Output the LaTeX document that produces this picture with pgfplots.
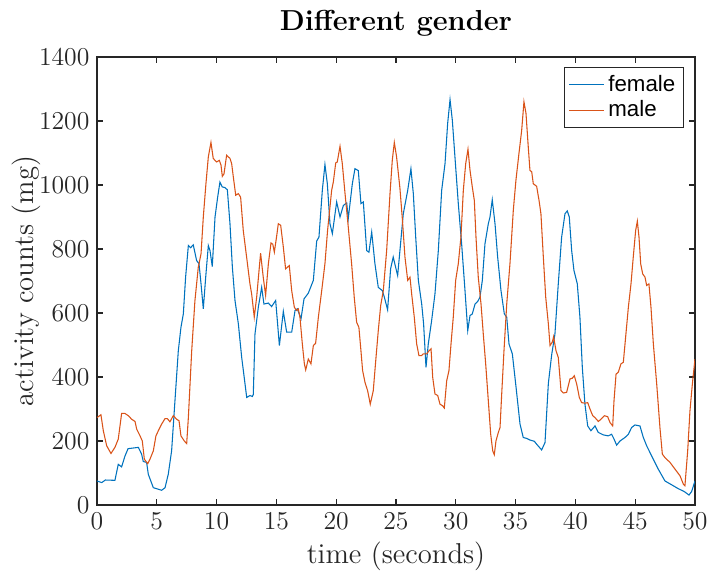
\documentclass[border=0pt]{standalone}
\usepackage{pgfplots}
\pgfplotsset{compat=1.18}
\usepackage{fontspec}
\newfontfamily\legfont{Liberation Sans}
\definecolor{mblue}{RGB}{0,114,189}
\definecolor{morange}{RGB}{217,83,25}
\definecolor{axgray}{RGB}{38,38,38}
\begin{document}
\begin{tikzpicture}
\begin{axis}[
  scale only axis,
  width=279pt, height=209pt,
  xmin=0, xmax=50, ymin=0, ymax=1400,
  xtick={0,5,...,50}, ytick={0,200,...,1400},
  /pgf/number format/set thousands separator={},
  tick align=inside,
  major tick length=2.8pt,
  axis line style={axgray, line width=0.5pt},
  every tick/.style={axgray, line width=0.5pt},
  tick label style={font=\fontsize{12}{14}\selectfont, text=axgray},
  xticklabel style={inner xsep=0pt},
  label style={font=\fontsize{13.4}{16}\selectfont, text=axgray, inner sep=0pt},
  title style={font=\fontsize{13.5}{16}\selectfont\bfseries, at={(axis description cs:0.5,1)}, anchor=base, yshift=6.3pt, inner sep=0pt},
  title={Different gender},
  xlabel={time (seconds)},
  ylabel={activity counts (mg)},
  xlabel style={at={(axis description cs:0.5,-0.114)}, anchor=center},
  ylabel style={at={(axis description cs:-0.118,0.5)}, anchor=center},
  legend style={at={(1,1)}, anchor=north east, xshift=-5pt, yshift=-4.7pt,
    font=\fontsize{10.4}{12}\selectfont\legfont, draw=axgray, line width=0.4pt,
    inner xsep=2pt, inner ysep=1.5pt, row sep=-1pt},
  legend cell align=left,
  legend image code/.code={\draw[#1] (0pt,0pt) -- (16pt,0pt);},
]
\coordinate (bl) at (rel axis cs:0,0);
\coordinate (tr) at (rel axis cs:1,1);
\addplot[mblue, line width=0.5pt] coordinates {
(0,75) (0.4,70) (0.7,78) (1.5,77) (1.78,127) (2.06,119) (2.34,153) (2.6,176) (3.46,180) (3.73,159) (3.87,136) (4.15,133) (4.29,96) (4.71,54) (5.41,46) (5.69,54) (5.96,96) (6.24,169) (6.52,326) (6.8,482) (7.02,555) (7.22,597) (7.41,712) (7.64,811) (7.83,804) (8.05,813) (8.33,764) (8.53,754) (8.7,691) (8.89,613) (9.09,712) (9.31,811) (9.45,795) (9.64,745) (9.87,900) (10.09,962) (10.28,1009) (10.47,994) (10.7,992) (10.9,985) (11.12,879) (11.32,743) (11.54,639) (11.82,566) (12.1,461) (12.52,336) (12.79,342) (12.99,339) (13.07,345) (13.21,534) (13.49,618) (13.77,680) (13.96,628) (14.33,631) (14.6,620) (14.94,639) (15.08,576) (15.25,498) (15.58,605) (15.86,540) (16.28,540) (16.56,608) (16.75,613) (17.06,582) (17.31,644) (17.67,662) (18.09,702) (18.37,825) (18.56,837) (18.84,983) (19.06,1064) (19.26,1004) (19.48,879) (19.68,848) (20.04,947) (20.32,900) (20.6,936) (20.88,944) (21.01,895) (21.35,1004) (21.57,1051) (21.85,1045) (22.07,942) (22.27,947) (22.55,795) (22.74,790) (22.97,853) (23.24,754) (23.52,680) (23.86,670) (24.03,649) (24.3,610) (24.55,738) (24.77,775) (24.97,743) (25.14,717) (25.33,795) (25.61,910) (25.98,983) (26.25,1051) (26.45,973) (26.65,837) (26.87,702) (27.15,628) (27.31,566) (27.51,430) (27.7,503) (27.98,576) (28.26,660) (28.54,795) (28.82,983) (29.1,1067) (29.32,1192) (29.52,1267) (29.71,1203) (29.93,1088) (30.21,942) (30.49,816) (30.77,670) (31.0,545) (31.19,592) (31.38,597) (31.61,628) (31.83,636) (32.02,649) (32.22,702) (32.44,816) (32.72,879) (32.86,900) (33.05,954) (33.28,879) (33.5,775) (33.78,670) (34.06,597) (34.26,587) (34.45,503) (34.73,472) (35.01,378) (35.37,253) (35.64,211) (35.93,208) (36.2,203) (36.57,199) (36.76,190) (37.18,172) (37.46,195) (37.74,380) (38.02,470) (38.29,534) (38.57,691) (38.85,837) (39.13,910) (39.32,919) (39.49,900) (39.69,795) (39.88,733) (40.16,691) (40.38,587) (40.58,430) (40.8,315) (41.03,247) (41.3,232) (41.64,247) (41.91,227) (42.33,219) (42.75,216) (43.03,221) (43.23,206) (43.45,187) (43.73,200) (44.15,211) (44.43,221) (44.7,242) (44.98,250) (45.4,247) (45.68,211) (45.96,185) (46.38,153) (46.93,112) (47.49,75) (48.05,63) (48.6,51) (49.1,42) (49.5,31) (49.72,42) (50,75)
};
\addlegendentry{female}
\addplot[morange, line width=0.5pt] coordinates {
(0,273) (0.33,282) (0.53,232) (0.81,185) (1.17,161) (1.5,180) (1.78,206) (2.06,286) (2.34,286) (2.62,279) (2.9,268) (3.18,261) (3.32,237) (3.6,216) (3.79,200) (3.96,143) (4.24,129) (4.43,143) (4.71,169) (4.93,216) (5.13,232) (5.41,253) (5.69,270) (5.88,270) (6.1,260) (6.38,279) (6.66,268) (6.86,263) (7.02,216) (7.3,200) (7.5,192) (7.64,273) (7.92,482) (8.19,639) (8.47,743) (8.7,785) (8.89,900) (9.11,1004) (9.31,1088) (9.53,1133) (9.72,1083) (10.0,1072) (10.23,1077) (10.37,1062) (10.48,1027) (10.62,1035) (10.84,1093) (11.12,1083) (11.26,1067) (11.4,1025) (11.6,968) (11.82,973) (12.01,962) (12.23,858) (12.51,775) (12.79,691) (12.93,660) (13.15,587) (13.35,649) (13.55,733) (13.68,787) (13.9,712) (14.1,655) (14.33,754) (14.55,819) (14.7,815) (14.83,790) (15.03,842) (15.16,879) (15.36,874) (15.58,806) (15.77,738) (15.92,743) (16.08,748) (16.28,670) (16.5,618) (16.69,608) (16.83,613) (16.97,587) (17.17,503) (17.34,441) (17.45,422) (17.67,456) (17.89,441) (18.09,498) (18.28,505) (18.51,587) (18.79,670) (19.06,754) (19.28,858) (19.48,931) (19.62,983) (19.76,1009) (19.96,1069) (20.09,1072) (20.32,1121) (20.51,1067) (20.74,973) (21.01,869) (21.29,754) (21.51,649) (21.71,571) (21.9,555) (22.07,482) (22.21,420) (22.41,383) (22.63,357) (22.85,315) (23.1,357) (23.33,461) (23.52,545) (23.72,623) (23.94,670) (24.22,795) (24.5,973) (24.69,1077) (24.86,1133) (25.05,1088) (25.33,990) (25.53,895) (25.75,775) (25.98,702) (26.17,712) (26.31,660) (26.53,587) (26.73,503) (26.92,467) (27.15,467) (27.28,472) (27.57,472) (27.76,482) (27.93,488) (28.07,399) (28.26,347) (28.49,342) (28.68,315) (28.9,310) (29.04,303) (29.24,388) (29.43,420) (29.6,503) (29.79,587) (29.99,702) (30.21,754) (30.43,837) (30.63,983) (30.83,1067) (31.02,1112) (31.19,1046) (31.38,994) (31.55,952) (31.69,837) (31.88,712) (32.11,628) (32.3,534) (32.5,441) (32.72,326) (32.92,221) (33.09,169) (33.22,157) (33.36,200) (33.56,227) (33.7,242) (33.84,347) (34.03,482) (34.26,628) (34.53,754) (34.81,921) (35.03,1015) (35.28,1098) (35.51,1171) (35.7,1260) (35.87,1224) (36.06,1119) (36.2,1046) (36.35,1041) (36.48,1004) (36.76,996) (36.96,952) (37.12,910) (37.32,775) (37.52,649) (37.74,566) (37.88,498) (38.07,509) (38.18,526) (38.38,482) (38.57,461) (38.8,357) (38.99,350) (39.27,352) (39.41,373) (39.55,394) (39.74,396) (39.91,404) (40.11,378) (40.33,336) (40.52,320) (40.8,318) (41.03,320) (41.22,300) (41.45,279) (41.64,273) (41.92,261) (42.14,268) (42.42,279) (42.7,276) (42.89,258) (43.12,247) (43.23,326) (43.4,409) (43.59,415) (43.81,441) (44.01,446) (44.2,524) (44.43,618) (44.65,691) (44.84,775) (45.04,858) (45.18,887) (45.32,837) (45.46,754) (45.63,722) (45.82,712) (45.96,686) (46.15,691) (46.32,618) (46.52,503) (46.8,378) (47.07,242) (47.27,159) (47.49,148) (47.91,133) (48.33,112) (48.75,91) (49.03,65) (49.16,60) (49.39,169) (49.58,294) (49.78,378) (50,456)
};
\addlegendentry{male}
\end{axis}
\path (bl) ++(-45.25pt,-32.2pt);
\path (tr) ++(6.07pt,26.6pt);
\end{tikzpicture}
\end{document}
